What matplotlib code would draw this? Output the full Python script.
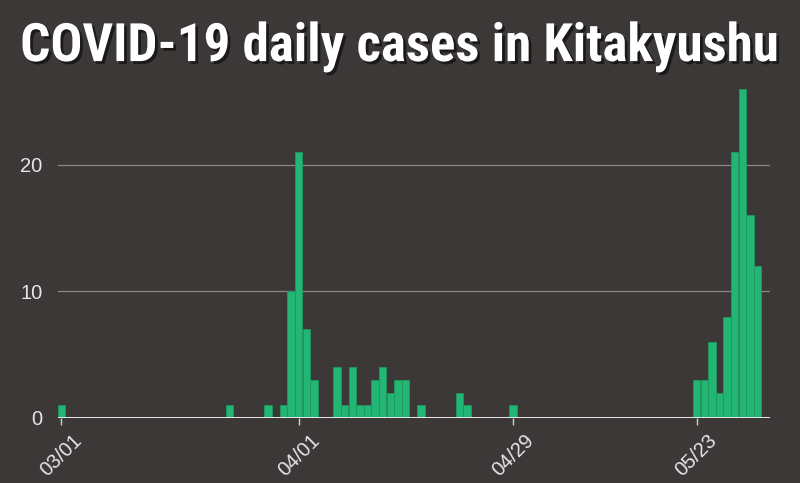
import matplotlib
matplotlib.use("Agg")
import matplotlib.pyplot as plt
import matplotlib.dates as mdates
import matplotlib.patheffects as pe
from matplotlib import font_manager
import pandas as pd

# daily cases (days not listed are zero)
dates = ["2020-03-01", "2020-03-23", "2020-03-28", "2020-03-30", "2020-03-31",
         "2020-04-01", "2020-04-02", "2020-04-03", "2020-04-06", "2020-04-07",
         "2020-04-08", "2020-04-09", "2020-04-10", "2020-04-11", "2020-04-12",
         "2020-04-13", "2020-04-14", "2020-04-15", "2020-04-17", "2020-04-22",
         "2020-04-23", "2020-04-29", "2020-05-23", "2020-05-24", "2020-05-25",
         "2020-05-26", "2020-05-27", "2020-05-28", "2020-05-29", "2020-05-30",
         "2020-05-31"]
cases = [1, 1, 1, 1, 10,
         21, 7, 3, 4, 1,
         4, 1, 1, 3, 4,
         2, 3, 3, 1, 2,
         1, 1, 3, 3, 6,
         2, 8, 21, 26, 16,
         12]
tick_dates = ["2020-03-01", "2020-04-01", "2020-04-29", "2020-05-23"]
tick_labels = ["03/01", "04/01", "04/29", "05/23"]
y_ticks = [0, 10, 20]
title = "COVID-19 daily cases in Kitakyushu"

bg = "#3c3837"
bar_color = "#23b573"
text_color = "#e6e6e6"

# pick a narrow bold face for the title if one is installed
names = {f.name for f in font_manager.fontManager.ttflist}
title_font = dict(family="DejaVu Sans", fontweight="bold")
for cand in ["Liberation Sans Narrow", "Roboto Condensed", "Open Sans Condensed"]:
    if cand in names:
        title_font = dict(family=cand, fontweight="bold")
        break
else:
    cond = [f for f in font_manager.fontManager.ttflist
            if f.name == "DejaVu Sans" and f.stretch == "condensed"]
    if cond:
        title_font = dict(family="DejaVu Sans", fontweight="bold", fontstretch="condensed")

x = mdates.date2num(pd.to_datetime(dates))
xt = mdates.date2num(pd.to_datetime(tick_dates))
start = mdates.date2num(pd.Timestamp("2020-03-01"))

fig = plt.figure(figsize=(8, 4.83), dpi=100, facecolor=bg)
ax = fig.add_axes([0.0725, 0.1346, 0.89, 0.687], facecolor=bg)

ax.bar(x, cases, width=0.96, color=bar_color, edgecolor="#1e9960",
       linewidth=0.6, zorder=3)

ax.set_xlim(start - 0.45, start + 92.6)
ax.set_ylim(0, 26.2)

ax.set_yticks(y_ticks)
ax.set_yticklabels([str(v) for v in y_ticks])
for v in y_ticks[1:]:
    ax.axhline(v, color="#8c8887", linewidth=0.9, zorder=1)
ax.axhline(0, color="#e8e8e8", linewidth=1.4, zorder=4)

ax.set_xticks(xt)
ax.set_xticklabels(tick_labels, rotation=45)

ax.tick_params(axis="x", colors="#cfcfcf", labelcolor=text_color,
               length=5, width=1, pad=4, labelsize=14.5)
ax.tick_params(axis="y", length=0, pad=11, labelcolor=text_color, labelsize=14.5)
for lbl in ax.get_xticklabels() + ax.get_yticklabels():
    lbl.set_fontfamily(["Liberation Sans", "DejaVu Sans"])

for s in ax.spines.values():
    s.set_visible(False)

t = fig.text(0.499, 0.903, title, ha="center", va="center", color="white",
             fontsize=40, **title_font,
             path_effects=[pe.withSimplePatchShadow(offset=(2, -2),
                                                   shadow_rgbFace="black", alpha=0.55)])
# fit title width to about 758 px
r = fig.canvas.get_renderer()
w = t.get_window_extent(renderer=r).width
t.set_fontsize(min(40 * 758 / w, 46))

fig.savefig("out.png", dpi=100, facecolor=bg)
